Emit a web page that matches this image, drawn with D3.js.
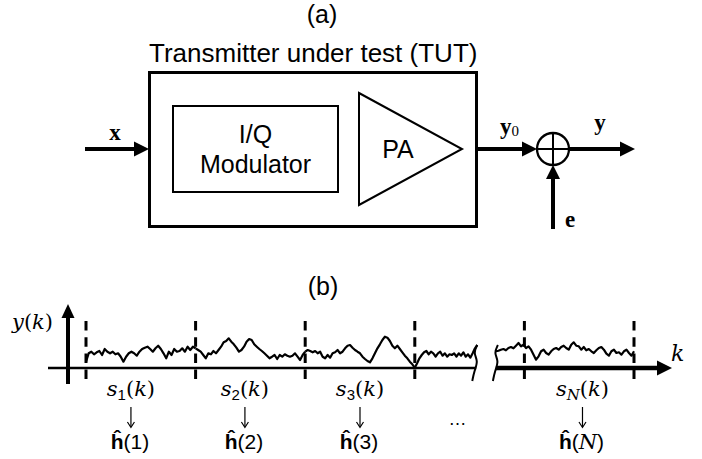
<!DOCTYPE html>
<html><head><meta charset="utf-8">
<script src="https://cdn.jsdelivr.net/npm/d3@7"></script>
<style>body{margin:0;background:#fff}</style>
</head><body>
<script>
// Captured output y(k), one amplitude list per analysis window s_n(k)
const win1 = [6.3,14.7,16.3,13.7,15.7,17,13,19,16.3,14.7,16.3,13.7,14.7,11.3,6.3,11.3,14.7,16.3,14.7,12.3,16.3,19,20.3,21.3,19,16.3,19.7,22.3,19,14.7,9.7,16.3,13,19,16.3,17,19.7,16.3,21.3,18,21.3,19.7];
const win2 = [19.7,18,16.3,13,9.7,14.7,13.7,17,14.7,18,21.3,25.7,27,29.7,26.3,23.7,20.3,16.3,18,21.3,26.3,29,28,23.7,21.3,19,17,14.7,12.3,9.7,11.3,13,9,13,11.3,13.7,12.3,11.3,12.3,14.7,11.3,8,13,16.3];
const win3 = [16.3,18,17,15.7,17,14.7,16.3,11.3,9.7,13,10.3,14.7,15.7,18,14.7,16.3,19.7,22.3,23,20.3,18,16.3,14.7,11.3,9,7,5.7,9.7,14.7,19.7,23.7,28,31.3,30.3,27,22.3,19.7,22.3,19,15.7,12.3,9.7,6.3,3.7,0.3];
const win4 = [0.3,4.7,9.7,13,15.7,17,13.7,16.3,14.7,11.3,14.7,16.3,12.3,14.7,11.3,13.7,13,14.7,11.3,14.7,12.3,15.7,11.3,13.7,10.3,14.7,19.7,23];
const winN = [16.7,17.3,18.3,19,17.7,20,21,19.7,22.3,25,21.7,23.3,20,21.7,18.3,13.3,8.3,11.7,16.7,18.3,15,13.3,16.7,19,20,18.3,21,22.3,20,18.3,23.3,25.7,22.3,21.7,18.3,21,17.7,19,16.7,15,17.7,20,21,18.3,14.3,12.3,16.7,18.3,15,15.7,13.3,16.7,18.3,15,12.3,16.7];
// span of each trace piece on the window axis (window n occupies [n-1, n])
const traceSpans = [[0,1],[1,2],[2,3],[3,3.57],[3.74,5]];
// window boundaries drawn as dashed markers
const boundaries = [0,1,2,3,4,5];
// window labels: subscript, centre on the window axis
const winSubs = ["1","2","3","N"];
const winCentres = [0.41,1.45,2.5,4.53];
const gapCentre = 3.39;

const W = 702, H = 459;
const svg = d3.select("body").append("svg").attr("width", W).attr("height", H)
  .style("font-family", "Arial, 'Liberation Sans', sans-serif");

const SANS = "Arial, 'Liberation Sans', sans-serif";
const SERIF = "'Times New Roman', 'Liberation Serif', serif";
const MATH = "'DejaVu Serif', serif";

function arrow(g, x1, y1, x2, y2, sw, len, half) {
  const dx = x2 - x1, dy = y2 - y1, L = Math.hypot(dx, dy);
  const ux = dx / L, uy = dy / L;
  const bx = x2 - ux * len, by = y2 - uy * len;
  g.append("line").attr("x1", x1).attr("y1", y1).attr("x2", bx + ux).attr("y2", by + uy)
    .attr("stroke", "#000").attr("stroke-width", sw);
  g.append("path").attr("d", `M${x2},${y2}L${bx - uy * half},${by + ux * half}L${bx + uy * half},${by - ux * half}Z`)
    .attr("fill", "#000");
}

/* ---------- (a) block diagram ---------- */
const a = svg.append("g");
a.append("text").attr("x", 322).attr("y", 23).attr("text-anchor", "middle")
  .attr("font-size", 25).text("(a)");
a.append("text").attr("x", 149).attr("y", 62).attr("font-size", 26)
  .text("Transmitter under test (TUT)");
a.append("rect").attr("x", 149.5).attr("y", 72.5).attr("width", 327).attr("height", 154)
  .attr("fill", "none").attr("stroke", "#000").attr("stroke-width", 3);
a.append("rect").attr("x", 173).attr("y", 106).attr("width", 165).attr("height", 86)
  .attr("fill", "none").attr("stroke", "#000").attr("stroke-width", 2);
a.append("text").attr("x", 255.5).attr("y", 143).attr("text-anchor", "middle")
  .attr("font-size", 25).text("I/Q");
a.append("text").attr("x", 255.5).attr("y", 173).attr("text-anchor", "middle")
  .attr("font-size", 25).text("Modulator");
a.append("path").attr("d", "M359,93L462,149L359,205Z")
  .attr("fill", "none").attr("stroke", "#000").attr("stroke-width", 2);
a.append("text").attr("x", 398).attr("y", 158).attr("text-anchor", "middle")
  .attr("font-size", 25).text("PA");

// signal path
arrow(a, 85, 149, 149, 149, 4, 15, 7.5);
a.append("text").attr("x", 115).attr("y", 140).attr("text-anchor", "middle")
  .attr("font-family", SERIF).attr("font-weight", "bold").attr("font-size", 23).text("x");
arrow(a, 476, 149, 537, 149, 4, 15, 7.5);
const y0 = a.append("text").attr("x", 500).attr("y", 134)
  .attr("font-family", SERIF).attr("font-size", 23);
y0.append("tspan").attr("font-weight", "bold").text("y");
y0.append("tspan").attr("font-size", 15).attr("dy", 2).text("0");

// summing junction
const cx = 553, cy = 149, r = 16;
a.append("circle").attr("cx", cx).attr("cy", cy).attr("r", r)
  .attr("fill", "none").attr("stroke", "#000").attr("stroke-width", 2.3);
a.append("line").attr("x1", cx - r).attr("x2", cx + r).attr("y1", cy).attr("y2", cy)
  .attr("stroke", "#000").attr("stroke-width", 2);
a.append("line").attr("x1", cx).attr("x2", cx).attr("y1", cy - r).attr("y2", cy + r)
  .attr("stroke", "#000").attr("stroke-width", 2);
arrow(a, cx + r, 149, 635, 149, 4, 15, 7.5);
a.append("text").attr("x", 600).attr("y", 130).attr("text-anchor", "middle")
  .attr("font-family", SERIF).attr("font-weight", "bold").attr("font-size", 23).text("y");
arrow(a, cx, 229, cx, cy + r, 4, 14, 7);
a.append("text").attr("x", 570).attr("y", 227).attr("text-anchor", "middle")
  .attr("font-family", SERIF).attr("font-weight", "bold").attr("font-size", 23).text("e");

/* ---------- (b) segmented capture ---------- */
const b = svg.append("g");
const x = d3.scaleLinear().domain([0, 5]).range([86, 634]);
const y = d3.scaleLinear().domain([0, 35]).range([368, 333]);

b.append("text").attr("x", 323).attr("y", 295).attr("text-anchor", "middle")
  .attr("font-size", 25).text("(b)");

// axes
arrow(b, 68, 384, 68, 304, 4, 14, 6.5);
b.append("line").attr("x1", 48).attr("x2", x(3.56)).attr("y1", y(0)).attr("y2", y(0))
  .attr("stroke", "#000").attr("stroke-width", 2.5);
arrow(b, x(3.74), y(0), 672, y(0), 4.5, 15, 7.5);

const yl = b.append("text").attr("x", 12).attr("y", 329).attr("font-family", MATH).attr("font-size", 21);
yl.append("tspan").attr("font-style", "italic").text("y");
yl.append("tspan").text("(");
yl.append("tspan").attr("font-style", "italic").text("k");
yl.append("tspan").text(")");
b.append("text").attr("x", 671).attr("y", 361).attr("font-family", MATH)
  .attr("font-style", "italic").attr("font-size", 22).text("k");

// window boundaries
b.selectAll("line.bound").data(boundaries).join("line").attr("class", "bound")
  .attr("x1", d => x(d)).attr("x2", d => x(d)).attr("y1", 321).attr("y2", 379)
  .attr("stroke", "#000").attr("stroke-width", 3).attr("stroke-dasharray", "9.5,6.7");

// trace pieces
const wins = [win1, win2, win3, win4, winN];
const line = d3.line().x(d => d[0]).y(d => d[1]);
wins.forEach((w, i) => {
  const [k0, k1] = traceSpans[i];
  const pts = w.map((v, j) => [x(k0 + (k1 - k0) * j / (w.length - 1)), y(v)]);
  b.append("path").attr("d", line(pts)).attr("fill", "none")
    .attr("stroke", "#000").attr("stroke-width", 2.2).attr("stroke-linejoin", "round");
});

// axis break marks
const brk = d3.line().curve(d3.curveBasis);
[[x(3.57), y(23)], [x(3.74) + 2, y(23)]].forEach(([bx, by]) => {
  b.append("path").attr("d", brk([[bx, by], [bx - 4, by + 8], [bx + 1, by + 16], [bx - 3, by + 26], [bx - 5, by + 36]]))
    .attr("fill", "none").attr("stroke", "#000").attr("stroke-width", 2);
});

// window labels, arrows and estimates
winSubs.forEach((s, i) => {
  const cxw = x(winCentres[i]);
  const t = b.append("text").attr("x", cxw).attr("y", 396).attr("text-anchor", "middle")
    .attr("font-family", MATH).attr("font-size", 21);
  t.append("tspan").attr("font-style", "italic").text("s");
  if (s === "N") t.append("tspan").attr("font-style", "italic").attr("font-size", 15).attr("dy", 4).text(s);
  else t.append("tspan").attr("font-family", SANS).attr("font-size", 15).attr("dy", 4).text(s);
  t.append("tspan").attr("dy", -4).text("(");
  t.append("tspan").attr("font-style", "italic").text("k");
  t.append("tspan").text(")");

  b.append("line").attr("x1", cxw).attr("x2", cxw).attr("y1", 407).attr("y2", 427)
    .attr("stroke", "#000").attr("stroke-width", 1.2);
  b.append("path").attr("d", `M${cxw - 3.5},${422}L${cxw},${427.5}L${cxw + 3.5},${422}`)
    .attr("fill", "none").attr("stroke", "#000").attr("stroke-width", 1.2);

  const h = b.append("text").attr("x", cxw - 1).attr("y", 449).attr("text-anchor", "middle")
    .attr("font-size", 21);
  h.append("tspan").attr("font-weight", "bold").text("ĥ");
  h.append("tspan").text("(");
  if (s === "N") h.append("tspan").attr("font-family", MATH).attr("font-style", "italic").text("N");
  else h.append("tspan").text(s);
  h.append("tspan").text(")");
});
b.append("text").attr("x", x(gapCentre)).attr("y", 425).attr("text-anchor", "middle")
  .attr("font-size", 18).text("…");
</script>
</body></html>
